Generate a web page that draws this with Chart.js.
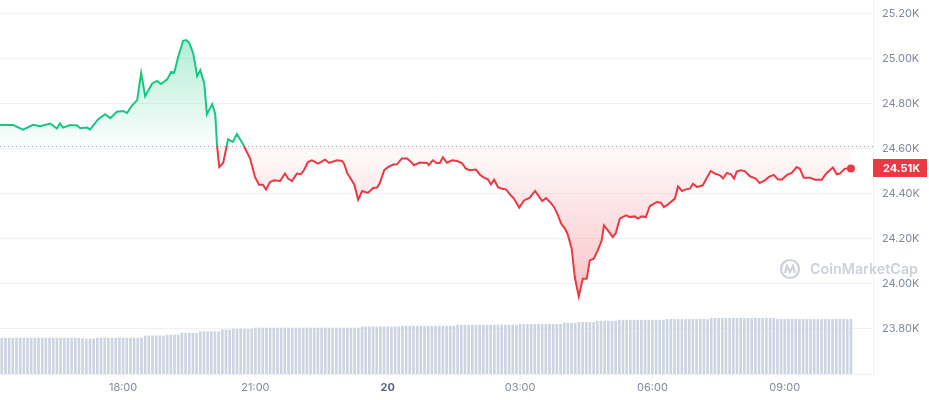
<!DOCTYPE html>
<html>
<head>
<meta charset="utf-8">
<title>BTC price 24h</title>
<script src="https://cdn.jsdelivr.net/npm/chart.js@4.4.0/dist/chart.umd.min.js"></script>
<style>
  html, body { margin: 0; padding: 0; background: #fff; }
  #wrap { width: 929px; height: 400px; }
</style>
</head>
<body>
<div id="wrap"><canvas id="chart" width="929" height="400"></canvas></div>
<script>
// Price (USD), time in hours from 00:00 of the 19th
const priceHours = [
  15.21,15.51,15.73,15.96,16.12,16.35,16.50,16.57,16.64,16.80,
  16.96,17.03,17.19,17.25,17.43,17.59,17.71,17.86,18.00,18.09,
  18.20,18.32,18.41,18.50,18.66,18.77,18.86,19.00,19.09,19.16,
  19.25,19.36,19.43,19.50,19.59,19.68,19.75,19.84,19.90,20.02,
  20.09,20.13,20.18,20.27,20.38,20.49,20.58,20.72,20.88,20.99,
  21.08,21.17,21.24,21.33,21.42,21.56,21.67,21.74,21.83,21.94,
  22.03,22.10,22.19,22.28,22.42,22.58,22.67,22.85,22.96,23.01,
  23.08,23.24,23.33,23.42,23.55,23.67,23.76,23.82,23.92,24.01,
  24.12,24.21,24.32,24.44,24.53,24.59,24.73,24.89,24.93,25.02,
  25.11,25.18,25.25,25.34,25.46,25.57,25.68,25.77,25.86,26.00,
  26.09,26.18,26.27,26.34,26.41,26.50,26.59,26.68,26.77,26.86,
  26.98,27.09,27.22,27.34,27.50,27.59,27.70,27.77,27.86,27.93,
  28.02,28.08,28.17,28.24,28.33,28.42,28.51,28.58,28.67,28.76,
  28.85,28.90,28.99,29.10,29.17,29.26,29.40,29.49,29.60,29.67,
  29.76,29.85,29.94,30.10,30.19,30.26,30.35,30.51,30.58,30.67,
  30.76,30.85,30.92,31.01,31.14,31.32,31.42,31.53,31.60,31.69,
  31.78,31.85,31.91,32.00,32.09,32.21,32.34,32.43,32.55,32.64,
  32.75,32.84,32.93,33.05,33.16,33.27,33.34,33.43,33.57,33.68,
  33.84,33.95,34.09,34.18,34.25,34.36,34.50
];
const priceValues = [
  24704,24704,24684,24705,24699,24711,24689,24711,24693,24704,
  24702,24690,24693,24684,24729,24752,24735,24763,24767,24758,
  24791,24815,24936,24832,24889,24900,24886,24907,24940,24936,
  25007,25078,25081,25069,25022,24921,24948,24889,24752,24797,
  24752,24615,24518,24536,24641,24630,24664,24619,24556,24474,
  24440,24440,24418,24452,24459,24456,24489,24467,24456,24489,
  24486,24504,24540,24548,24533,24551,24536,24548,24545,24533,
  24492,24441,24373,24412,24403,24425,24427,24447,24504,24518,
  24529,24530,24556,24556,24540,24526,24538,24536,24526,24548,
  24536,24536,24561,24537,24548,24545,24536,24511,24504,24507,
  24484,24471,24464,24441,24462,24429,24422,24419,24397,24378,
  24338,24370,24382,24412,24367,24380,24358,24340,24304,24267,
  24244,24219,24156,24029,23944,24022,24022,24104,24111,24148,
  24192,24259,24237,24207,24225,24289,24304,24296,24299,24289,
  24299,24296,24344,24363,24360,24340,24352,24378,24432,24412,
  24419,24422,24444,24429,24437,24500,24489,24481,24467,24492,
  24486,24467,24498,24504,24500,24477,24467,24447,24459,24474,
  24483,24464,24462,24483,24492,24518,24511,24471,24471,24462,
  24462,24492,24516,24486,24489,24511,24512
];

// 24h volume bars, one per 5 minutes (arbitrary units, one row = one hour)
const volumeStart = 15.25;
const volumeStepMin = 5;
const volumeValues = [
  9.6,9.6,9.6,9.6,9.6,9.6,9.6,9.6,9.6,9.6,9.6,9.6,
  9.6,9.6,9.6,9.6,9.6,9.6,9.6,9.6,9.6,9.6,9.4,9.4,
  9.4,9.4,9.6,9.6,9.6,9.6,9.6,9.6,9.6,9.6,9.6,9.6,
  9.6,9.6,9.6,10.2,10.2,10.2,10.2,10.2,10.2,10.4,10.4,10.4,
  10.4,10.9,10.9,10.9,10.9,10.9,11.3,11.3,11.3,11.3,11.3,11.3,
  11.8,11.8,11.8,12.0,12.0,12.0,12.0,12.0,12.0,12.3,12.3,12.3,
  12.3,12.3,12.3,12.3,12.3,12.3,12.3,12.3,12.3,12.3,12.3,12.3,
  12.3,12.3,12.3,12.3,12.3,12.3,12.3,12.3,12.3,12.3,12.3,12.3,
  12.3,12.3,12.6,12.6,12.6,12.6,12.6,12.6,12.6,12.6,12.6,12.6,
  12.6,12.8,12.8,12.8,12.8,12.8,12.8,12.8,12.8,12.8,12.8,12.8,
  12.8,12.8,12.8,12.8,13.1,13.1,13.1,13.1,13.1,13.1,13.1,13.1,
  13.1,13.1,13.1,13.1,13.1,13.1,13.1,13.1,13.1,13.3,13.3,13.3,
  13.3,13.3,13.3,13.3,13.3,13.3,13.3,13.3,13.3,13.6,13.6,13.6,
  13.6,13.8,13.8,13.8,13.8,13.8,14.1,14.1,14.1,14.1,14.1,14.1,
  14.4,14.4,14.4,14.4,14.4,14.4,14.4,14.4,14.4,14.4,14.4,14.4,
  14.4,14.6,14.6,14.6,14.6,14.6,14.6,14.6,14.6,14.6,14.6,14.6,
  14.6,14.9,14.9,14.9,14.9,14.9,14.9,14.9,14.9,14.9,14.9,14.9,
  14.9,14.9,14.9,14.9,14.9,14.9,14.9,14.6,14.6,14.6,14.6,14.6,
  14.6,14.6,14.6,14.6,14.6,14.6,14.6,14.6,14.6,14.6,14.6,14.6,
  14.6,14.6,14.6,14.6
];

// Axis ticks
const xTickHours = [18, 21, 24, 27, 30, 33];
const xTickLabels = ["18:00", "21:00", "20", "03:00", "06:00", "09:00"];
const yTickValues = [23800, 24000, 24200, 24400, 24600, 24800, 25000, 25200];

const BASE = 24612;         // opening price (dotted line)
const X_MIN = 15.21, X_MAX = 35;
const Y_MIN = 23600, Y_MAX = 25259;

const GREEN = "#16c784";
const RED = "#ea3943";
const GRID = "#eff2f5";
const FONT = "Inter, 'Noto Sans', sans-serif";

const pricePts = priceHours.map((h, i) => ({ x: h, y: priceValues[i] }));
const volumePts = volumeValues.map((v, i) => ({ x: volumeStart + i * volumeStepMin / 60, y: v }));
const lastIdx = pricePts.length - 1;
const lastPrice = priceValues[lastIdx];

function kfmt(v){
  return (v / 1000).toFixed(2) + "K";
}

// no label padding: the plot should run to the top and bottom edges
function noPad(s){
  s.paddingTop = 0;
  s.paddingBottom = 0;
}

// dotted opening line + watermark
const backdrop = {
  id: "backdrop",
  beforeDatasetsDraw(chart){
    const { ctx, chartArea, scales } = chart;
    const yb = scales.y.getPixelForValue(BASE);
    ctx.save();
    ctx.strokeStyle = "#9aa2b1";
    ctx.lineWidth = 1;
    ctx.setLineDash([1, 3]);
    ctx.beginPath();
    ctx.moveTo(chartArea.left, Math.round(yb) + 0.5);
    ctx.lineTo(chartArea.right, Math.round(yb) + 0.5);
    ctx.stroke();
    ctx.setLineDash([]);

    // CoinMarketCap watermark
    const cx = chartArea.right - 83, cy = chartArea.bottom - 105;
    ctx.strokeStyle = "#cbd0da";
    ctx.fillStyle = "#cbd0da";
    ctx.lineWidth = 2.2;
    ctx.beginPath();
    ctx.arc(cx, cy, 9, 0, Math.PI * 2);
    ctx.stroke();
    ctx.beginPath();
    ctx.moveTo(cx - 5, cy + 4);
    ctx.lineTo(cx - 3, cy - 3);
    ctx.lineTo(cx, cy + 3);
    ctx.lineTo(cx + 3, cy - 3);
    ctx.lineTo(cx + 5, cy + 4);
    ctx.stroke();
    ctx.font = "600 16px " + FONT;
    const w = ctx.measureText("CoinMarketCap").width;
    const size = Math.min(16, 16 * 108 / w);
    ctx.font = "600 " + size.toFixed(1) + "px " + FONT;
    ctx.textBaseline = "middle";
    ctx.textAlign = "left";
    ctx.fillText("CoinMarketCap", cx + 20, cy + 1);
    ctx.restore();
  }
};

// red price tag on the right axis
const priceTag = {
  id: "priceTag",
  afterDraw(chart){
    const { ctx, chartArea, scales } = chart;
    const y = scales.y.getPixelForValue(lastPrice);
    ctx.save();
    ctx.fillStyle = RED;
    ctx.fillRect(chartArea.right, Math.round(y) - 9, 54, 18);
    ctx.fillStyle = "#fff";
    ctx.font = "bold 11px " + FONT;
    ctx.textBaseline = "middle";
    ctx.textAlign = "left";
    ctx.fillText(kfmt(lastPrice), chartArea.right + 10, Math.round(y) + 0.5);
    ctx.restore();
  }
};

const canvas = document.getElementById("chart");

const chart = new Chart(canvas, {
  data: {
    datasets: [
      {
        type: "line",
        label: "Price",
        data: pricePts,
        yAxisID: "y",
        borderColor: GREEN,
        borderWidth: 2,
        tension: 0,
        pointRadius: (c) => c.dataIndex === lastIdx ? 4 : 0,
        pointBackgroundColor: RED,
        pointBorderWidth: 0,
        fill: { target: { value: BASE }, above: "rgba(22,199,132,0.15)", below: "rgba(234,57,67,0.1)" },
        order: 0
      },
      {
        type: "bar",
        label: "Volume",
        data: volumePts,
        yAxisID: "yv",
        backgroundColor: "#cdd4e1",
        barThickness: 2,
        order: 1
      }
    ]
  },
  options: {
    responsive: false,
    animation: false,
    devicePixelRatio: 1,
    layout: { padding: 0, autoPadding: false },
    plugins: { legend: { display: false }, tooltip: { enabled: false } },
    scales: {
      x: {
        type: "linear",
        min: X_MIN,
        max: X_MAX,
        offset: false,
        afterBuildTicks: (s) => { s.ticks = xTickHours.map(v => ({ value: v })); },
        afterFit: (s) => { s.height = 26; s.paddingLeft = 0; s.paddingRight = 0; },
        grid: { display: true, drawOnChartArea: false, drawTicks: true, tickLength: 4, color: GRID, offset: false },
        border: { display: true, color: GRID },
        ticks: {
          padding: 3,
          maxRotation: 0,
          autoSkip: false,
          callback: (v) => xTickLabels[xTickHours.indexOf(v)],
          color: (c) => c.tick && c.tick.value === 24 ? "#58667e" : "#808a9d",
          font: (c) => ({ family: FONT, size: 11, weight: c.tick && c.tick.value === 24 ? "bold" : "normal" })
        }
      },
      y: {
        position: "right",
        min: Y_MIN,
        max: Y_MAX,
        afterBuildTicks: (s) => { s.ticks = yTickValues.map(v => ({ value: v })); },
        afterFit: (s) => { s.width = 56; noPad(s); },
        grid: { color: GRID, drawTicks: false },
        border: { display: true, color: GRID },
        ticks: {
          padding: 9,
          color: "#808a9d",
          font: { family: FONT, size: 11 },
          callback: (v) => kfmt(v)
        }
      },
      yv: { display: false, min: 0, max: 100 }
    }
  },
  plugins: [backdrop, priceTag]
});

// gradients need the laid-out scales, so set them after the first draw
function applyGradients(){
  const { ctx, chartArea, scales } = chart;
  const yBase = scales.y.getPixelForValue(BASE);
  const yTop = scales.y.getPixelForValue(Math.max(...priceValues));
  const yLow = scales.y.getPixelForValue(Math.min(...priceValues));

  const gUp = ctx.createLinearGradient(0, yTop, 0, yBase);
  gUp.addColorStop(0, "rgba(22,199,132,0.32)");
  gUp.addColorStop(1, "rgba(22,199,132,0.02)");

  const gDown = ctx.createLinearGradient(0, yBase, 0, yLow);
  gDown.addColorStop(0, "rgba(234,57,67,0.02)");
  gDown.addColorStop(1, "rgba(234,57,67,0.30)");

  const f = (yBase - chartArea.top) / (chartArea.bottom - chartArea.top);
  const gLine = ctx.createLinearGradient(0, chartArea.top, 0, chartArea.bottom);
  gLine.addColorStop(0, GREEN);
  gLine.addColorStop(f, GREEN);
  gLine.addColorStop(f, RED);
  gLine.addColorStop(1, RED);

  const ds = chart.data.datasets[0];
  ds.borderColor = gLine;
  ds.fill = { target: { value: BASE }, above: gUp, below: gDown };
  chart.update("none");
}

applyGradients();
</script>
</body>
</html>
